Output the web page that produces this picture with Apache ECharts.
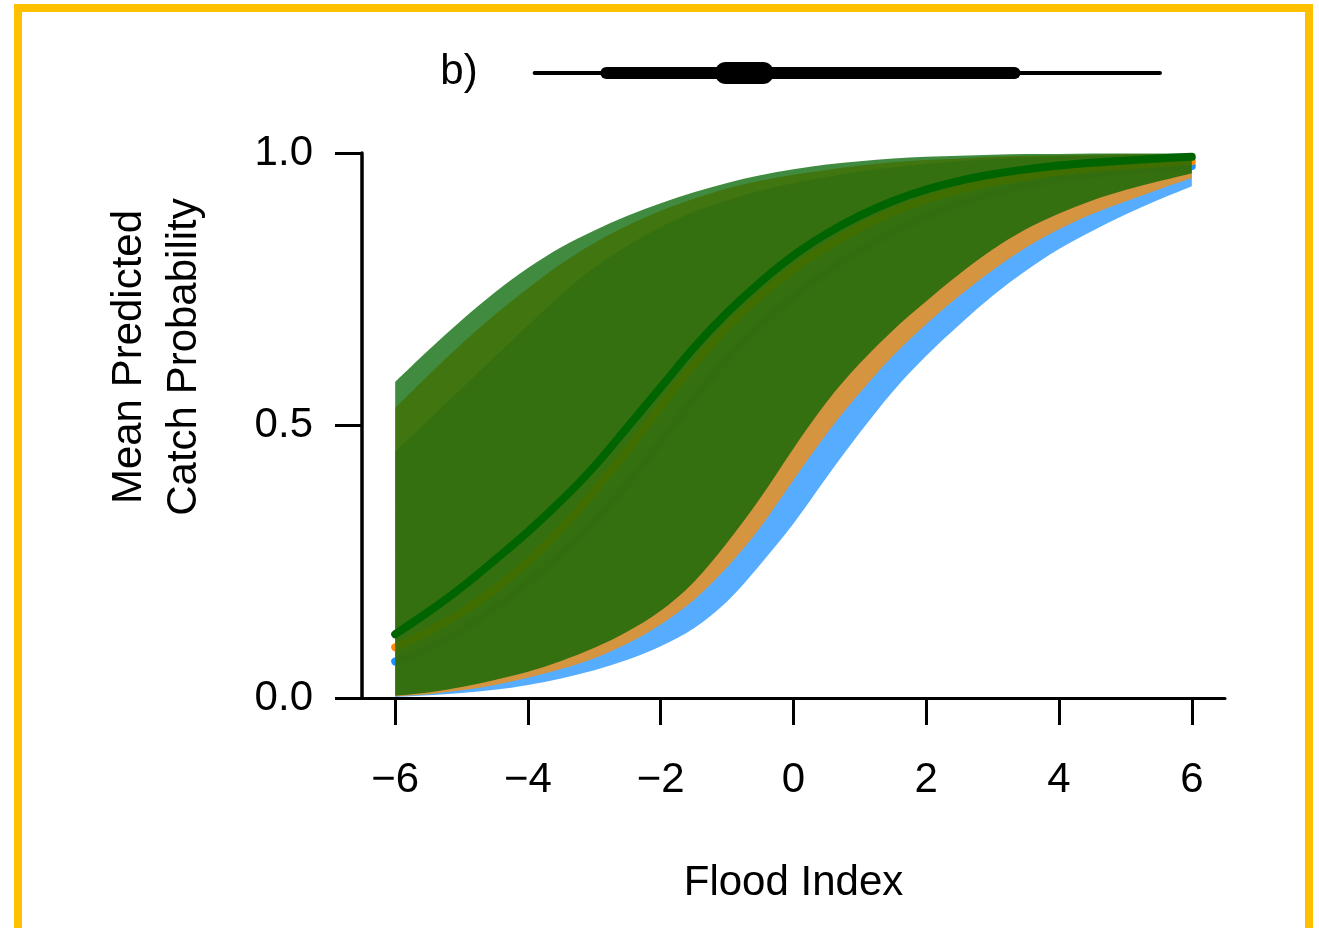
<!DOCTYPE html>
<html>
<head>
<meta charset="utf-8">
<style>
html,body{margin:0;padding:0;background:#fff;}
#c{width:1319px;height:928px;}
</style>
<script src="https://cdn.jsdelivr.net/npm/echarts@6/dist/echarts.min.js"></script>
</head>
<body>
<div id="c"></div>
<script>
// ---- data ----
const floodIndex = [-6,-5.5,-5,-4.5,-4,-3.5,-3,-2.5,-2,-1.5,-1,-0.5,0,0.5,1,1.5,2,2.5,3,3.5,4,4.5,5,5.5,6];

const blueLower  = [0.002,0.005,0.009,0.015,0.024,0.036,0.051,0.070,0.095,0.128,0.177,0.245,0.320,0.405,0.487,0.563,0.628,0.685,0.738,0.784,0.824,0.857,0.887,0.914,0.939];
const blueUpper  = [0.452,0.510,0.568,0.626,0.684,0.740,0.790,0.830,0.864,0.892,0.913,0.931,0.945,0.956,0.966,0.974,0.980,0.985,0.989,0.992,0.994,0.995,0.996,0.997,0.997];
const blueMean   = [0.067,0.092,0.125,0.165,0.212,0.265,0.325,0.393,0.470,0.550,0.622,0.684,0.737,0.782,0.821,0.855,0.884,0.907,0.926,0.941,0.952,0.961,0.967,0.972,0.976];

const orangeLower = [0.003,0.007,0.014,0.024,0.037,0.053,0.073,0.100,0.135,0.180,0.240,0.313,0.400,0.485,0.560,0.628,0.686,0.738,0.785,0.826,0.860,0.888,0.911,0.933,0.954];
const orangeUpper = [0.532,0.592,0.650,0.703,0.752,0.797,0.835,0.867,0.894,0.916,0.935,0.949,0.960,0.969,0.977,0.983,0.987,0.990,0.993,0.995,0.996,0.997,0.998,0.998,0.998];
const orangeMean  = [0.093,0.122,0.157,0.200,0.250,0.310,0.380,0.455,0.535,0.612,0.680,0.738,0.787,0.828,0.863,0.892,0.915,0.933,0.947,0.957,0.966,0.972,0.977,0.981,0.985];

const greenLower = [0.004,0.010,0.020,0.033,0.048,0.068,0.092,0.122,0.160,0.213,0.285,0.367,0.458,0.543,0.614,0.675,0.728,0.778,0.823,0.860,0.889,0.913,0.932,0.948,0.963];
const greenUpper = [0.580,0.638,0.693,0.744,0.789,0.827,0.858,0.885,0.908,0.928,0.945,0.959,0.970,0.979,0.985,0.990,0.993,0.995,0.997,0.998,0.998,0.999,0.999,0.999,0.999];
const greenMean  = [0.117,0.158,0.203,0.253,0.305,0.362,0.425,0.497,0.570,0.643,0.707,0.763,0.812,0.852,0.885,0.912,0.933,0.949,0.961,0.970,0.977,0.982,0.986,0.990,0.993];

const xTickValues = [-6,-4,-2,0,2,4,6];

// posterior interval bars shown above the panel
const intervalOuter = [-3.9, 5.52];
const intervalMid   = [-2.82, 3.33];
const intervalInner = [-1.02, -0.46];

// ---- styling ----
const FONT = 'Liberation Sans, Arial, Helvetica, sans-serif';
const colBlue = '#1E90FF', colOrange = '#FF8C00', colGreen = '#006400';
const fillBlue = 'rgba(30,144,255,0.75)', fillOrange = 'rgba(255,140,0,0.75)', fillGreen = 'rgba(0,100,0,0.75)';

// Catmull-Rom spline through pixel points -> cubic Bezier path commands
function splineCmds(pts, startWithMove){
  let d = startWithMove ? 'M' + pts[0][0] + ' ' + pts[0][1] : 'L' + pts[0][0] + ' ' + pts[0][1];
  const n = pts.length;
  for (let i = 0; i < n - 1; i++) {
    const p0 = pts[Math.max(i - 1, 0)], p1 = pts[i], p2 = pts[i + 1], p3 = pts[Math.min(i + 2, n - 1)];
    const c1x = p1[0] + (p2[0] - p0[0]) / 6, c1y = p1[1] + (p2[1] - p0[1]) / 6;
    const c2x = p2[0] - (p3[0] - p1[0]) / 6, c2y = p2[1] - (p3[1] - p1[1]) / 6;
    d += ' C' + c1x + ' ' + c1y + ' ' + c2x + ' ' + c2y + ' ' + p2[0] + ' ' + p2[1];
  }
  return d;
}

function bandSeries(lo, up, fill){
  return {
    type:'custom', xAxisIndex:0, yAxisIndex:0, silent:true, clip:false,
    data:[[floodIndex[0], lo[0]]],
    renderItem:function(params, api){
      const upPts = floodIndex.map((x,i)=>api.coord([x, up[i]]));
      const loPts = floodIndex.map((x,i)=>api.coord([x, lo[i]])).reverse();
      const d = splineCmds(upPts, true) + ' ' + splineCmds(loPts, false) + ' Z';
      return {type:'path', shape:{pathData:d}, style:{fill:fill, stroke:null}};
    }
  };
}
function meanSeries(ys, col){
  return {
    type:'custom', xAxisIndex:0, yAxisIndex:0, silent:true, clip:false,
    data:[[floodIndex[0], ys[0]]],
    renderItem:function(params, api){
      const pts = floodIndex.map((x,i)=>api.coord([x, ys[i]]));
      return {type:'path', shape:{pathData:splineCmds(pts, true)},
        style:{fill:null, stroke:col, lineWidth:8, lineCap:'round', lineJoin:'round'}};
    }
  };
}
function intervalLine(iv, w){
  return {type:'line', xAxisIndex:1, yAxisIndex:1, data:[[iv[0],0.5],[iv[1],0.5]], symbol:'none',
    lineStyle:{color:'#000', width:w, cap:'round'}, silent:true};
}

const chart = echarts.init(document.getElementById('c'), null, {renderer:'canvas'});
const option = {
  animation:false,
  backgroundColor:'#fff',
  grid:[
    {left:362, right:94, top:153, bottom:230, containLabel:false},
    {left:362, right:94, top:53, height:40, containLabel:false}
  ],
  xAxis:[
    {type:'value', gridIndex:0, min:-6.5, max:6.5,
     axisLine:{show:true, onZero:false, lineStyle:{color:'#000', width:3}},
     axisTick:{show:true, customValues:xTickValues, length:27, inside:false, lineStyle:{color:'#000', width:3}},
     axisLabel:{show:true, customValues:xTickValues, margin:61, color:'#000', fontSize:42, fontFamily:FONT,
       formatter:v=> v<0 ? '\u2212'+Math.abs(v) : String(v)},
     splitLine:{show:false},
     name:'Flood Index', nameLocation:'middle', nameGap:164,
     nameTextStyle:{color:'#000', fontSize:42, fontFamily:FONT}},
    {type:'value', gridIndex:1, min:-6.5, max:6.5, show:false}
  ],
  yAxis:[
    {type:'value', gridIndex:0, min:0, max:1, interval:0.5,
     axisLine:{show:true, onZero:false, lineStyle:{color:'#000', width:3.5}},
     axisTick:{show:true, length:27, lineStyle:{color:'#000', width:3}},
     axisLabel:{show:true, margin:49, color:'#000', fontSize:42, fontFamily:FONT, formatter:v=>v.toFixed(1)},
     splitLine:{show:false}},
    {type:'value', gridIndex:1, min:0, max:1, show:false}
  ],
  graphic:[
    {type:'rect', shape:{x:14, y:4, width:8, height:930}, style:{fill:'#FFC000'}, silent:true},
    {type:'rect', shape:{x:14, y:4, width:1299, height:8}, style:{fill:'#FFC000'}, silent:true},
    {type:'rect', shape:{x:1305, y:4, width:8, height:930}, style:{fill:'#FFC000'}, silent:true},
    {type:'text', x:459, y:72, silent:true,
     style:{text:'b)', fill:'#000', fontSize:42, fontFamily:FONT, textAlign:'center', textVerticalAlign:'middle'}},
    {type:'text', x:157, y:357, rotation:Math.PI/2, silent:true,
     style:{text:'Mean Predicted\nCatch Probability', fill:'#000', fontSize:42, fontFamily:FONT, lineHeight:55,
       textAlign:'center', textVerticalAlign:'middle'}}
  ],
  series:[
    bandSeries(blueLower, blueUpper, fillBlue),
    meanSeries(blueMean, colBlue),
    bandSeries(orangeLower, orangeUpper, fillOrange),
    meanSeries(orangeMean, colOrange),
    bandSeries(greenLower, greenUpper, fillGreen),
    meanSeries(greenMean, colGreen),
    intervalLine(intervalOuter, 4),
    intervalLine(intervalMid, 12),
    intervalLine(intervalInner, 22)
  ]
};
chart.setOption(option);
</script>
</body>
</html>
